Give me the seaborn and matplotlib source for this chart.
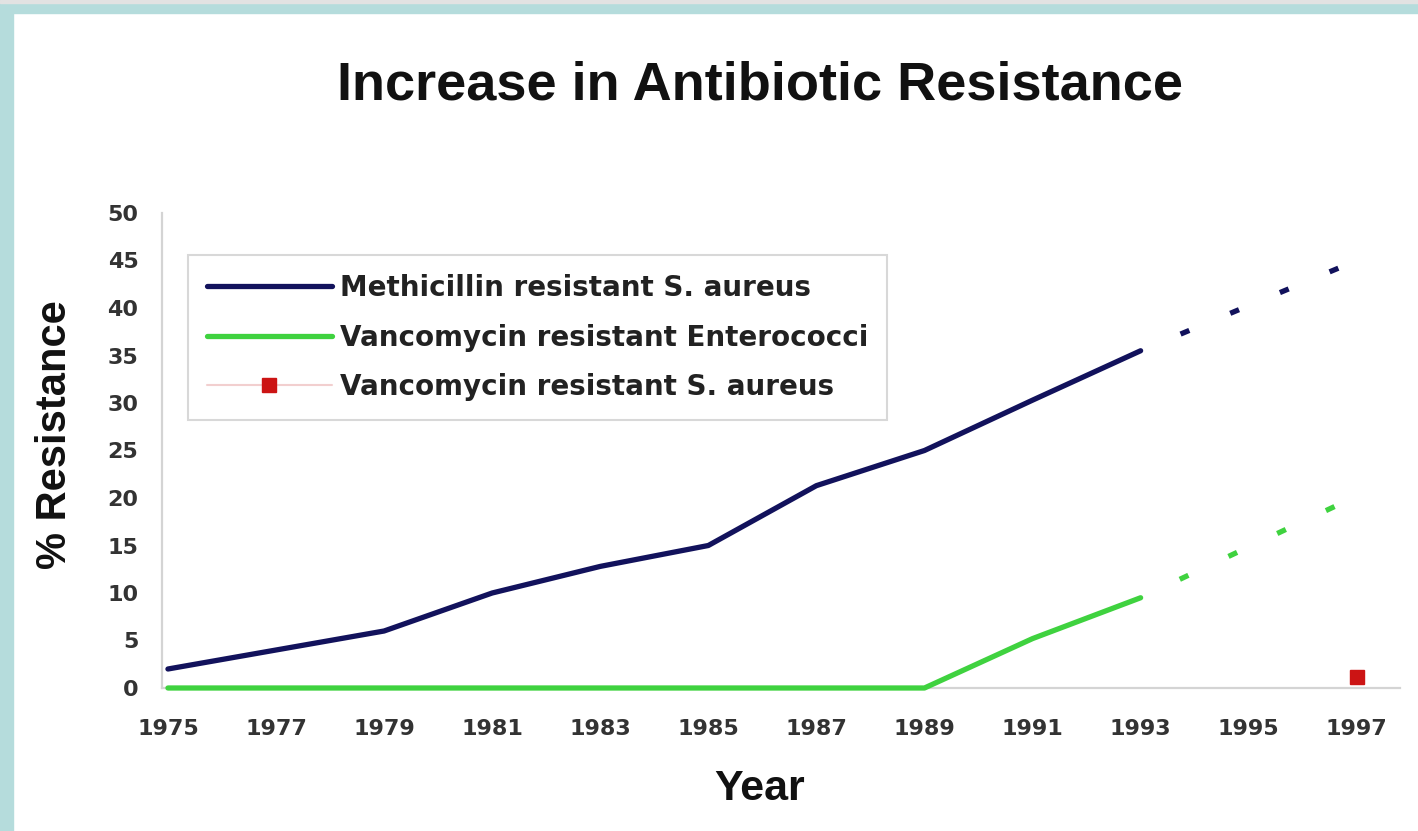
import matplotlib
matplotlib.use("Agg")
import matplotlib.pyplot as plt
from matplotlib.patches import Rectangle
import seaborn as sns
import pandas as pd

# ---- data ----
years_solid = [1975, 1977, 1979, 1981, 1983, 1985, 1987, 1989, 1991, 1993]
mrsa_solid = [2, 4, 6, 10, 12.8, 15, 21.3, 25, 30.3, 35.5]
vre_solid = [0, 0, 0, 0, 0, 0, 0, 0, 5.2, 9.5]
years_proj = [1993, 1997]
mrsa_proj = [35.5, 45]
vre_proj = [9.5, 20.2]
vrsa_years = [1997]
vrsa_vals = [1.2]
xticks = list(range(1975, 1998, 2))
yticks = list(range(0, 51, 5))
labels = ["Methicillin resistant S. aureus",
          "Vancomycin resistant Enterococci",
          "Vancomycin resistant S. aureus"]
title = "Increase in Antibiotic Resistance"

sns.set_theme(style="white")
plt.rcParams['font.family'] = ['Liberation Sans', 'DejaVu Sans']
wide = ['DejaVu Sans']

W, H = 1418, 831
fig = plt.figure(figsize=(W / 100, H / 100), dpi=100)
fig.patch.set_facecolor("white")

# frame strips
fig.patches.append(Rectangle((0, 0), 13 / W, 1, transform=fig.transFigure,
                             color="#b5dcdc", zorder=0))
fig.patches.append(Rectangle((0, 1 - 13 / H), 1, 10 / H, transform=fig.transFigure,
                             color="#b5dcdc", zorder=0))
fig.patches.append(Rectangle((0, 1 - 3 / H), 1, 3 / H, transform=fig.transFigure,
                             color="#e2e2e2", zorder=0))

left, right, bottom, top = 162, 1400, 688, 213
ax = fig.add_axes([left / W, 1 - bottom / H, (right - left) / W, (bottom - top) / H])
ax.set_facecolor("white")

navy = "#12125c"
green = "#3fd23f"
red = "#cc1414"
lw = 3.8

df = pd.DataFrame({"Year": years_solid, "MRSA": mrsa_solid, "VRE": vre_solid})
sns.lineplot(data=df, x="Year", y="MRSA", ax=ax, color=navy, lw=lw,
             label=labels[0], clip_on=False, zorder=4)
sns.lineplot(data=df, x="Year", y="VRE", ax=ax, color=green, lw=lw,
             label=labels[1], clip_on=False, zorder=3)

dash = (2.0, (1.8, 8.4))
ax.plot(years_proj, mrsa_proj, color=navy, lw=lw, linestyle=dash,
        dash_capstyle="butt", zorder=4)
ax.plot(years_proj, vre_proj, color=green, lw=lw, linestyle=dash,
        dash_capstyle="butt", zorder=3)
ax.plot(vrsa_years, vrsa_vals, color="#f2cfcf", lw=1.5, marker="s", ms=10,
        mfc=red, mec=red, label=labels[2], clip_on=False, zorder=5)

ax.set_xlim(1974.89, 1997.8)
ax.set_ylim(0, 50)
ax.set_xticks(xticks)
ax.set_yticks(yticks)
ax.set_xticklabels([str(v) for v in xticks], fontsize=16, fontweight="bold",
                   color="#333333", family=wide)
ax.set_yticklabels([str(v) for v in yticks], fontsize=16, fontweight="bold",
                   color="#333333", family=wide)

for s in ["top", "right"]:
    ax.spines[s].set_visible(False)
for s in ["left", "bottom"]:
    ax.spines[s].set_color("#d4d4d4")
    ax.spines[s].set_linewidth(1.6)
ax.tick_params(axis="both", direction="inout", length=10, width=1.4, color="#d4d4d4")
ax.tick_params(axis="x", pad=17)
ax.tick_params(axis="y", pad=12)
ax.grid(False)

ax.set_ylabel("% Resistance", fontsize=30, fontweight="bold", color="#111111")
ax.yaxis.set_label_coords(-0.07, 0.533)
ax.set_xlabel("Year", fontsize=31, fontweight="bold", color="#111111")
ax.xaxis.set_label_coords(0.483, -0.17)

fig.text(760 / W, 1 - 85 / H, title, ha="center", va="center",
         fontsize=39, fontweight="bold", color="#111111")

leg = ax.legend(loc="upper left", bbox_to_anchor=(188 / W, 1 - 255 / H),
                bbox_transform=fig.transFigure, frameon=True, fancybox=False,
                edgecolor="#cfcfcf", facecolor="white",
                prop={"family": wide, "weight": "bold", "size": 20},
                handlelength=4.5, handletextpad=0.3, labelspacing=0.78,
                borderpad=0.68, borderaxespad=0)
leg.get_frame().set_linewidth(1.5)
for t in leg.get_texts():
    t.set_color("#222222")

fig.savefig("out.png", dpi=100, facecolor="white")
